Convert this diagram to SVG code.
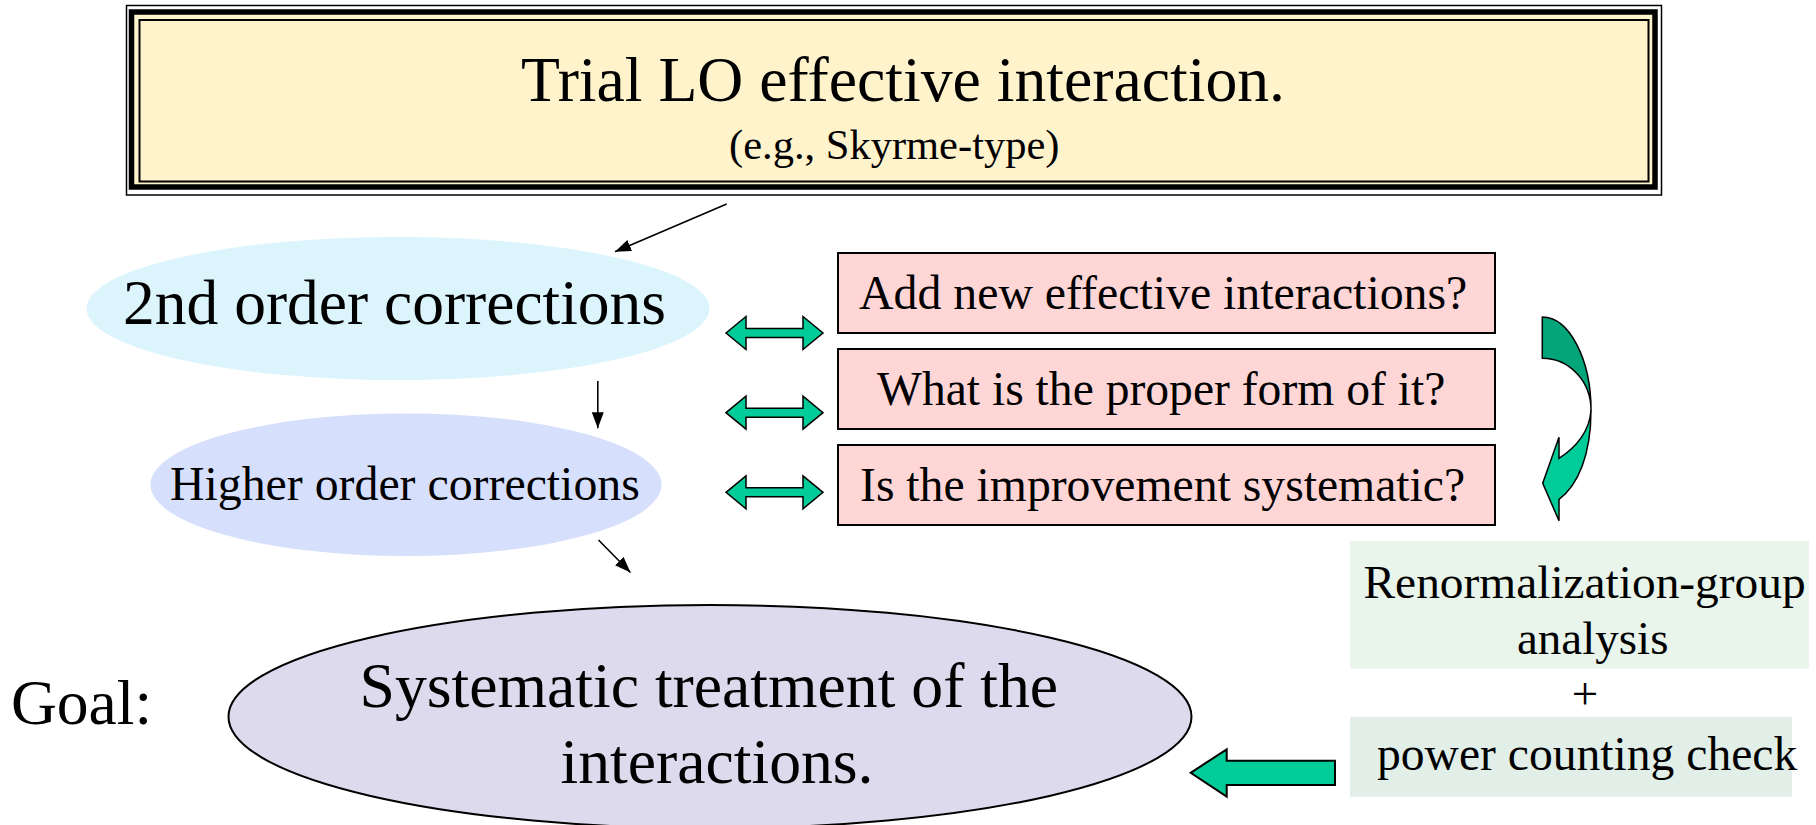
<svg xmlns="http://www.w3.org/2000/svg" xmlns:xlink="http://www.w3.org/1999/xlink" width="1816" height="825" viewBox="0 0 1816 825">
<style>
text{font-family:"Liberation Serif","Times New Roman",serif;fill:#000}
.q{fill:#FFD6D6;stroke:#000;stroke-width:2}
.dbl{fill:#00CC99;stroke:#000;stroke-width:1.5;stroke-linejoin:miter}
.conn{stroke:#000;stroke-width:1.6;fill:none}
</style>
<defs>
<marker id="ah" markerUnits="userSpaceOnUse" markerWidth="18" markerHeight="14" refX="16" refY="6" orient="auto">
<path d="M0,0 L16,6 L0,12 z" fill="#000"/>
</marker>
<path id="dblArrow" d="M0,0 L20,-16.5 L20,-4.5 L77,-4.5 L77,-16.5 L97,0 L77,16.5 L77,4.5 L20,4.5 L20,16.5 Z"/>
</defs>
<rect width="1816" height="825" fill="#fff"/>

<g id="trial">
<rect x="126.5" y="5.5" width="1535" height="189.5" fill="none" stroke="#000" stroke-width="1.5"/>
<rect x="131.5" y="12" width="1523.5" height="175" fill="#FFF3CC" stroke="#000" stroke-width="5.5"/>
<rect x="139.5" y="20" width="1509" height="161.5" fill="none" stroke="#000" stroke-width="2"/>
<text x="521" y="101" font-size="63.7">Trial LO effective interaction.</text>
<text x="729" y="159" font-size="42.5">(e.g., Skyrme-type)</text>
</g>

<g id="second">
<ellipse cx="398" cy="308.5" rx="311.5" ry="71.5" fill="#DCF5FD"/>
<text x="123" y="324" font-size="63.5">2nd order corrections</text>
</g>

<g id="higher">
<ellipse cx="406" cy="484.7" rx="255.5" ry="71.3" fill="#D6DFFB"/>
<text x="170" y="500" font-size="47.8">Higher order corrections</text>
</g>

<g id="goal">
<text x="11" y="724" font-size="63.5">Goal:</text>
<ellipse cx="710" cy="716.7" rx="481.5" ry="111.7" fill="#DCDAEC" stroke="#000" stroke-width="2"/>
<text x="359.5" y="706.7" font-size="63.7">Systematic treatment of the</text>
<text x="560.5" y="783.3" font-size="63.7">interactions.</text>
</g>

<g id="q1">
<rect class="q" x="838" y="253" width="657" height="80"/>
<text x="859" y="308.5" font-size="47.8">Add new effective interactions?</text>
</g>
<g id="q2">
<rect class="q" x="838" y="349" width="657" height="80"/>
<text x="877" y="405" font-size="47.6">What is the proper form of it?</text>
</g>
<g id="q3">
<rect class="q" x="838" y="445" width="657" height="80"/>
<text x="860" y="500.5" font-size="47.7">Is the improvement systematic?</text>
</g>

<g id="rg">
<rect x="1350" y="541" width="459" height="127.5" fill="#E9F4EA"/>
<text x="1363.5" y="597.5" font-size="47.4">Renormalization-group</text>
<text x="1517" y="653.5" font-size="47">analysis</text>
<text x="1585" y="709" font-size="47" text-anchor="middle">+</text>
</g>
<g id="pc">
<rect x="1350" y="716.7" width="442" height="80" fill="#E1EFE8"/>
<text x="1377" y="769.5" font-size="47.6">power counting check</text>
</g>

<g id="connectors">
<line class="conn" x1="726.7" y1="204" x2="615" y2="251.7" marker-end="url(#ah)"/>
<line class="conn" x1="597.8" y1="381" x2="597.8" y2="428.3" marker-end="url(#ah)"/>
<line class="conn" x1="598.5" y1="540" x2="630.5" y2="572.5" marker-end="url(#ah)"/>
<use xlink:href="#dblArrow" class="dbl" transform="translate(726,333)"/>
<use xlink:href="#dblArrow" class="dbl" transform="translate(726,412.7)"/>
<use xlink:href="#dblArrow" class="dbl" transform="translate(726,492.3)"/>
<path d="M1542.3,317 C1569,317 1591,359 1591,410 C1591,381 1569,358.3 1542.3,358.3 Z" fill="#05A57B" stroke="#000" stroke-width="1.5" stroke-linejoin="round"/>
<path d="M1591,410 C1591,455 1578,485 1559,499.3 L1559,520.7 L1542.7,483.3 L1559,437.3 L1559,458.3 C1577,447 1590,430 1591,410 Z" fill="#00CC99" stroke="#000" stroke-width="1.5" stroke-linejoin="miter"/>
<path d="M1335,760.7 L1226.7,760.7 L1226.7,749.3 L1190.7,772.8 L1226.7,796.7 L1226.7,785 L1335,785 Z" fill="#00CC99" stroke="#000" stroke-width="2"/>
</g>
</svg>
